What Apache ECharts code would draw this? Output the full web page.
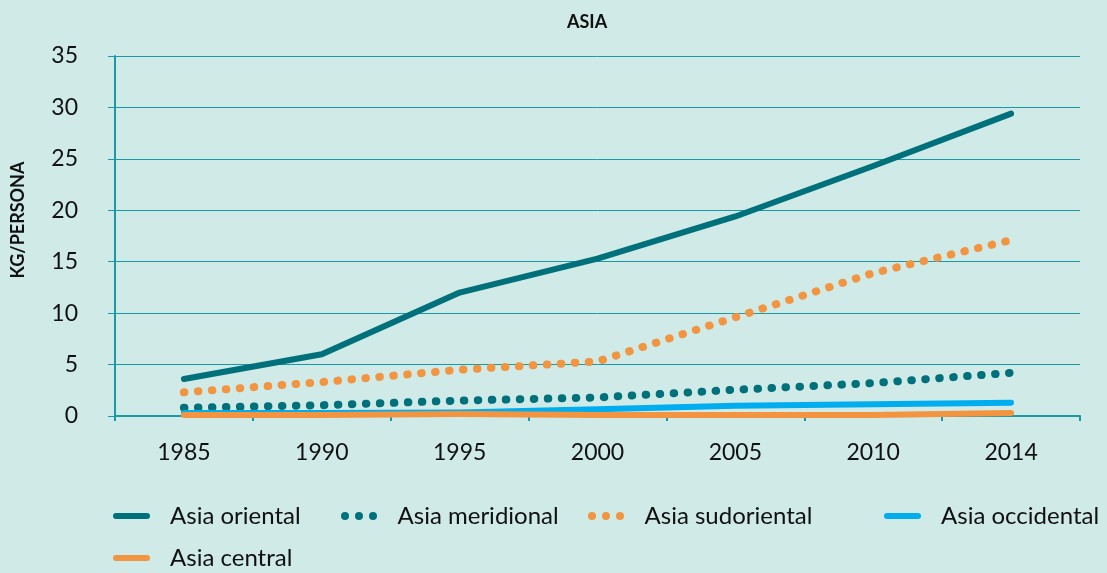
<!DOCTYPE html>
<html>
<head>
<meta charset="utf-8">
<script src="https://cdn.jsdelivr.net/npm/echarts@6/dist/echarts.min.js"></script>
<style>
  html, body { margin: 0; padding: 0; background: #cfeae7; }
  #chart { width: 1107px; height: 573px; }
</style>
</head>
<body>
<div id="chart"></div>
<script>
const years = ['1985', '1990', '1995', '2000', '2005', '2010', '2014']
const asiaOriental = [3.6, 6.0, 12.0, 15.3, 19.4, 24.3, 29.4]
const asiaMeridional = [0.8, 1.05, 1.5, 1.8, 2.55, 3.2, 4.2]
const asiaSudoriental = [2.3, 3.3, 4.5, 5.3, 9.6, 13.9, 17.1]
const asiaOccidental = [0.3, 0.3, 0.35, 0.65, 1.0, 1.15, 1.3]
const asiaCentral = [0.1, 0.1, 0.2, 0.1, 0.1, 0.1, 0.3]

const teal = '#00707a'
const orange = '#f39440'
const blue = '#00adef'
const axisTeal = '#1a9aa7'
const font = 'Lato, "Noto Sans", sans-serif'

// legend icons: a capsule for solid lines, three dots for dotted ones
const lineIcon = 'path://M3,0H34A3,3 0 0,1 34,6H3A3,3 0 0,1 3,0Z'
const dotIcon = 'path://M4,0A4,4 0 1,0 4,8A4,4 0 1,0 4,0ZM18,0A4,4 0 1,0 18,8A4,4 0 1,0 18,0ZM32,0A4,4 0 1,0 32,8A4,4 0 1,0 32,0Z'

const solid = (name, data, color, width) => ({
  name, type: 'line', data, symbol: 'none', color,
  lineStyle: { color, width, cap: 'round', join: 'round' }
})
const dotted = (name, data, color) => ({
  name, type: 'line', data, symbol: 'none', color,
  lineStyle: { color, width: 8, type: [0.5, 13.5], cap: 'round' }
})

const legendAt = (name, icon, left, top) => ({
  data: [{ name, icon }], left, top, padding: 0,
  itemWidth: 37, itemHeight: icon === dotIcon ? 8 : 6,
  textStyle: { fontFamily: font, fontSize: 24, color: '#111', padding: [0, 0, 0, 15] }
})

const chart = echarts.init(document.getElementById('chart'))
chart.setOption({
  backgroundColor: '#cfeae7',
  animation: false,
  title: {
    text: 'ASIA', left: 562, top: 8,
    textStyle: { fontFamily: font, fontSize: 18, fontWeight: 'bold', color: '#111' }
  },
  grid: { left: 115, right: 27, top: 56, bottom: 157 },
  legend: [
    legendAt('Asia oriental', lineIcon, 113, 504),
    legendAt('Asia meridional', dotIcon, 341, 504),
    legendAt('Asia sudoriental', dotIcon, 588, 504),
    legendAt('Asia occidental', lineIcon, 884, 504),
    legendAt('Asia central', lineIcon, 113, 546)
  ],
  xAxis: {
    type: 'category', data: years, boundaryGap: true,
    axisLine: { lineStyle: { color: axisTeal, width: 2 } },
    axisTick: { show: true, length: 5, lineStyle: { color: axisTeal, width: 2 } },
    axisLabel: { fontFamily: font, fontSize: 23, color: '#111', margin: 25 }
  },
  yAxis: {
    type: 'value', min: 0, max: 35, interval: 5,
    name: 'KG/PERSONA', nameLocation: 'middle', nameGap: 88, nameRotate: 90,
    nameTextStyle: { fontFamily: font, fontSize: 18, fontWeight: 'bold', color: '#111', padding: [0, 0, 0, 32] },
    axisLine: { show: true, lineStyle: { color: axisTeal, width: 2 } },
    axisTick: { show: true, length: 7, lineStyle: { color: axisTeal, width: 1 } },
    axisLabel: { fontFamily: font, fontSize: 23, color: '#111', margin: 37 },
    splitLine: { lineStyle: { color: axisTeal, width: 1 } }
  },
  series: [
    solid('Asia oriental', asiaOriental, teal, 6),
    dotted('Asia meridional', asiaMeridional, teal),
    dotted('Asia sudoriental', asiaSudoriental, orange),
    solid('Asia occidental', asiaOccidental, blue, 6),
    solid('Asia central', asiaCentral, orange, 6)
  ]
})
</script>
</body>
</html>
